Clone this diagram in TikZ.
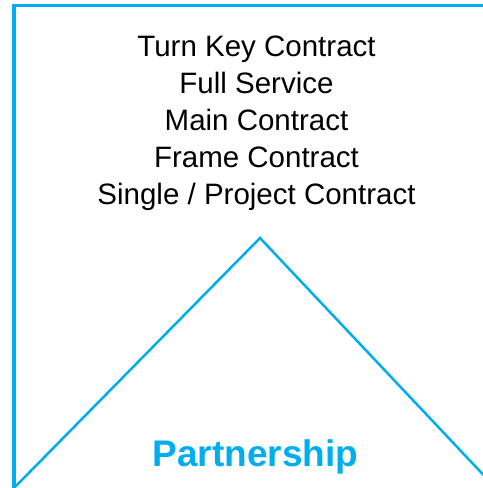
\documentclass[tikz,border=0pt]{standalone}
\usepackage{fontspec}
\setmainfont{Liberation Sans}
\definecolor{cyanline}{RGB}{0,174,239}
\begin{document}
\begin{tikzpicture}[x=1bp,y=-1bp,
  item/.style={anchor=base,inner sep=0pt,font=\fontsize{29.5bp}{35bp}\selectfont,text=black},
  title/.style={anchor=base,inner sep=0pt,font=\bfseries\fontsize{37bp}{43bp}\selectfont,text=cyanline}]
\useasboundingbox (0,0) rectangle (483,488);
\begin{scope}
\clip (0,0) rectangle (483,488);
\draw[cyanline,line width=4bp] (14,4) -- (14,490);
\draw[cyanline,line width=3bp] (12,5.5) -- (490,5.5);
\draw[cyanline,line width=2.5bp,line join=miter] (14,488) -- (260,238) -- (492,484);
\end{scope}
\node[item] (l1) at (256.5,56.7) {Turn Key Contract};
\node[item] (l2) at (256.5,93.6) {Full Service};
\node[item] (l3) at (256.5,130.5) {Main Contract};
\node[item] (l4) at (256.5,167.4) {Frame Contract};
\node[item] (l5) at (256.5,204.3) {Single / Project Contract};
\node[title] (p) at (255.5,466.7) {Partnership};
\end{tikzpicture}
\end{document}
